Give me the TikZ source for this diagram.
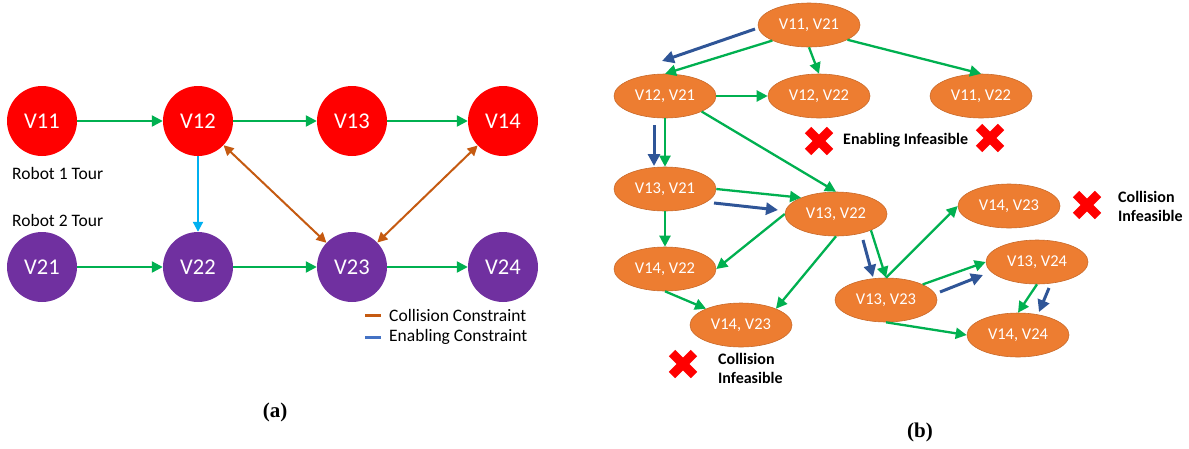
\documentclass[tikz,border=0pt]{standalone}
\usepackage{fontspec}
\setmainfont{Carlito}
\newfontfamily\serifcap{Liberation Serif}
\usetikzlibrary{arrows.meta,shapes.geometric,calc}

\definecolor{robred}{HTML}{FF0000}
\definecolor{robpurple}{HTML}{7030A0}
\definecolor{seqgreen}{HTML}{00B050}
\definecolor{enabcyan}{HTML}{00B0F0}
\definecolor{collbrown}{HTML}{C55A11}
\definecolor{legblue}{HTML}{4472C4}
\definecolor{hintblue}{HTML}{2F5597}
\definecolor{joint}{HTML}{ED7D31}

\tikzset{
  tournode/.style={circle, minimum size=70pt, inner sep=0pt, text=white,
    font=\fontsize{22.5}{26}\selectfont},
  r1/.style={tournode, fill=robred},
  r2/.style={tournode, fill=robpurple},
  jstate/.style={ellipse, fill=joint, draw=joint!85!black, line width=0.6pt,
    minimum width=102pt, minimum height=44pt, inner sep=0pt, text=white,
    font=\fontsize{16.5}{19}\selectfont},
  seq/.style={draw=seqgreen, line width=2.3pt, -{Triangle[length=11pt,width=11pt]}},
  enab/.style={draw=enabcyan, line width=2pt, -{Triangle[length=10pt,width=10pt]}},
  coll/.style={draw=collbrown, line width=2pt,
    {Triangle[length=10pt,width=10pt]}-{Triangle[length=10pt,width=10pt]}},
  hint/.style={draw=hintblue, line width=3pt, -{Triangle[length=12pt,width=12pt]}},
  plain/.style={font=\fontsize{17.5}{21}\selectfont, inner sep=0pt, anchor=west},
  verdict/.style={font=\bfseries\fontsize{16}{19}\selectfont, inner sep=0pt,
    anchor=west, align=left},
  xmark/.style={draw=robred, line width=9pt},
}

\begin{document}
\begin{tikzpicture}[x=1pt,y=-1pt]
\useasboundingbox (0,0) rectangle (1189,448);

% ---------- (a) robot tours ----------
\node[r1] (v11) at (42,121) {V11};
\node[r1] (v12) at (198,121) {V12};
\node[r1] (v13) at (352,121) {V13};
\node[r1] (v14) at (503,121) {V14};
\node[r2] (v21) at (42,267) {V21};
\node[r2] (v22) at (198,267) {V22};
\node[r2] (v23) at (352,267) {V23};
\node[r2] (v24) at (503,267) {V24};

\node[plain] (lab1) at (12,173) {Robot 1 Tour};
\node[plain] (lab2) at (12,220) {Robot 2 Tour};

\draw[seq] (v11) -- (v12);
\draw[seq] (v12) -- (v13);
\draw[seq] (v13) -- (v14);
\draw[seq] (v21) -- (v22);
\draw[seq] (v22) -- (v23);
\draw[seq] (v23) -- (v24);
\draw[enab] (v12) -- (v22);
\draw[coll] (v12) -- (v23);
\draw[coll] (v14) -- (v23);

% legend
\coordinate (lc0) at (365,315); \coordinate (lc1) at (381,315);
\coordinate (le0) at (365,337); \coordinate (le1) at (381,337);
\draw[collbrown, line width=3pt] (lc0) -- (lc1);
\draw[legblue, line width=3pt] (le0) -- (le1);
\node[plain] (legc) at (389,315) {Collision Constraint};
\node[plain] (lege) at (389,337) {Enabling Constraint};

\node[font=\serifcap\bfseries\fontsize{21}{24}\selectfont] (capa) at (275,412) {(a)};

% ---------- (b) joint state graph ----------
\node[jstate] (s1121) at (809,25) {V11, V21};
\node[jstate] (s1221) at (665,96) {V12, V21};
\node[jstate] (s1222) at (819,96) {V12, V22};
\node[jstate] (s1122) at (981,96) {V11, V22};
\node[jstate] (s1321) at (665,189) {V13, V21};
\node[jstate] (s1322) at (836,214) {V13, V22};
\node[jstate] (s1422) at (665,269) {V14, V22};
\node[jstate] (s1423a) at (741,325) {V14, V23};
\node[jstate] (s1423b) at (1009,206) {V14, V23};
\node[jstate] (s1323) at (886,300) {V13, V23};
\node[jstate] (s1324) at (1037,262) {V13, V24};
\node[jstate] (s1424) at (1018,335) {V14, V24};

\draw[seq] (s1121.203) -- (s1221.north);
\draw[seq] (s1121.south) -- (s1222.north);
\draw[seq] (s1121.-21) -- (s1122.north);
\draw[seq] (s1221.east) -- (s1222.west);
\draw[seq] (s1221.south) -- (s1321.north);
\draw[seq] (s1221.-23) -- (s1322.north);
\draw[seq] (s1321.east) -- (s1322.155);
\draw[seq] (s1321.south) -- (s1422.north);
\draw[seq] (s1322.west) -- (s1422.east);
\draw[seq] (s1322.south) -- (s1423a.25);
\draw[seq] (s1422.south) -- (s1423a.155);
\draw[seq] (s1322.-25) -- (s1323.north);
\draw[seq] (s1323.north) -- (s1423b.west);
\draw[seq] (s1323.23) -- (s1324.west);
\draw[seq] (s1323.south) -- (s1424.west);
\draw[seq] (s1324.south) -- (s1424.north);

% enabling hints
\coordinate (h1a) at (755,29);  \coordinate (h1b) at (662,61);
\coordinate (h2a) at (654,125); \coordinate (h2b) at (654,166);
\coordinate (h3a) at (714,203); \coordinate (h3b) at (778,210);
\coordinate (h4a) at (863,240); \coordinate (h4b) at (873,277);
\coordinate (h5a) at (940,292); \coordinate (h5b) at (983,275);
\coordinate (h6a) at (1049,288); \coordinate (h6b) at (1039,312);
\draw[hint] (h1a) -- (h1b);
\draw[hint] (h2a) -- (h2b);
\draw[hint] (h3a) -- (h3b);
\draw[hint] (h4a) -- (h4b);
\draw[hint] (h5a) -- (h5b);
\draw[hint] (h6a) -- (h6b);

% infeasible marks
\coordinate (x1) at (819,141);
\coordinate (x2) at (990,138);
\coordinate (x3) at (1087,205);
\coordinate (x4) at (683,364);
\foreach \c in {x1,x2,x3,x4}{
  \draw[xmark] ($(\c)+(-11,-11)$) -- ($(\c)+(11,11)$);
  \draw[xmark] ($(\c)+(-11,11)$) -- ($(\c)+(11,-11)$);
}
\node[verdict] (ven) at (843,140) {Enabling Infeasible};
\node[verdict] (vc1) at (1118,206) {Collision\\Infeasible};
\node[verdict] (vc2) at (718,368) {Collision\\Infeasible};

\node[font=\serifcap\bfseries\fontsize{21}{24}\selectfont] (capb) at (920,432) {(b)};
\end{tikzpicture}
\end{document}
